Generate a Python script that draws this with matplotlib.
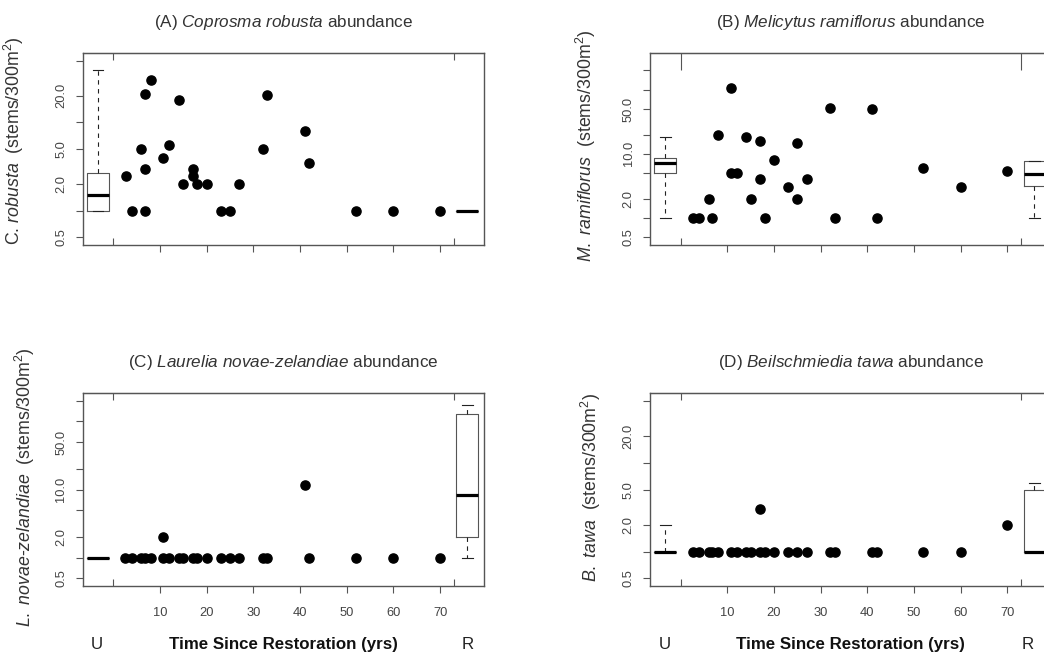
import matplotlib
matplotlib.use("Agg")
import matplotlib.pyplot as plt
from matplotlib.ticker import FixedLocator, FixedFormatter

plt.rcParams['font.family'] = ['Liberation Sans', 'DejaVu Sans']
plt.rcParams['mathtext.fontset'] = 'custom'
plt.rcParams['mathtext.rm'] = 'Liberation Sans'
plt.rcParams['mathtext.it'] = 'Liberation Sans:italic'
plt.rcParams['mathtext.bf'] = 'Liberation Sans:bold'

# restored sites: years since restoration and stem counts per 300 m2
yrs_a = [2.7, 4, 6, 6.8, 6.8, 6.8, 8, 10.7, 12, 14, 15, 17, 17, 18, 20,
         23, 25, 27, 32, 33, 41, 42, 52, 60, 70]
cop_rob = [2.5, 1, 5, 21, 3, 1, 30, 4, 5.5, 18, 2, 3, 2.5, 2, 2,
           1, 1, 2, 5, 20.5, 8, 3.5, 1, 1, 1]

yrs_b = [2.6, 4, 6, 6.8, 8, 10.7, 10.7, 12, 14, 15, 17, 17, 18, 20, 23,
         25, 25, 27, 32, 33, 41, 42, 52, 60, 70]
mel_ram = [1, 1, 2, 1, 20, 107, 5, 5, 18, 2, 16, 4, 1, 8, 3,
           15, 2, 4, 51, 1, 50, 1, 6, 3, 5.4]

yrs_c = [2.6, 4, 6, 6.8, 8, 10.7, 10.7, 12, 14, 15, 17, 18, 20, 23, 25,
         27, 32, 33, 41, 42, 52, 60, 70]
lau_nov = [1, 1, 1, 1, 1, 1, 2, 1, 1, 1, 1, 1, 1, 1, 1,
           1, 1, 1, 11.7, 1, 1, 1, 1]

yrs_d = [2.6, 4, 6, 6.8, 8, 10.7, 12, 14, 15, 17, 17, 18, 20, 23, 25,
         27, 32, 33, 41, 42, 52, 60, 70]
bei_taw = [1, 1, 1, 1, 1, 1, 1, 1, 1, 1, 3, 1, 1, 1, 1,
           1, 1, 1, 1, 1, 1, 1, 2]

# unrestored (U) and remnant (R) summaries: whislo, q1, med, q3, whishi
box_a = [[1, 1, 1.5, 2.65, 39], [1, 1, 1, 1, 1]]
box_b = [[1, 5.1, 7.1, 8.5, 18], [1, 3.1, 4.9, 7.6, 7.8]]
box_c = [[1, 1, 1, 1, 1], [1, 2, 8.3, 129, 176]]
box_d = [[1, 1, 1, 1, 2], [1, 1, 1, 5, 6]]

ticks_small = [0.5, 1, 2, 5, 10, 20, 50]
labels_small = ['0.5', '', '2.0', '5.0', '', '20.0', '']
ticks_big = [0.5, 1, 2, 5, 10, 20, 50, 100, 200]
labels_big = ['0.5', '', '2.0', '', '10.0', '', '50.0', '', '']

age_ticks = [10, 20, 30, 40, 50, 60, 70]
end_ticks = [0, 73]

GREY = '#555555'
TXT = '#333333'

W, H = 1044, 655
fig = plt.figure(figsize=(W / 100, H / 100), dpi=100)


def px_axes(left, top, right, bottom):
    return fig.add_axes([left / W, 1 - bottom / H, (right - left) / W,
                         (bottom - top) / H])


def panel(ax, x, y, boxes, ylim, yt, ytl, title, ylab, lab_x, lab_y,
          bottom_row, top_len=5):
    ax.set_xscale('linear')
    ax.set_yscale('log')
    stats = []
    for b in boxes:
        stats.append(dict(whislo=b[0], q1=b[1], med=b[2], q3=b[3],
                          whishi=b[4]))
    ax.bxp(stats, positions=[-3.3, 75.8], widths=4.6, showfliers=False,
           boxprops=dict(color=GREY, lw=0.8),
           medianprops=dict(color='black', lw=2.3, solid_capstyle='butt'),
           whiskerprops=dict(color='#222222', lw=0.8, ls=(0, (4, 4))),
           capprops=dict(color='#222222', lw=0.8), manage_ticks=False)
    ax.plot(x, y, 'o', color='black', ms=6.6, mec='black', clip_on=False)
    ax.set_xlim(-6.55, 79.4)
    ax.set_ylim(*ylim)

    ax.yaxis.set_major_locator(FixedLocator(yt))
    ax.yaxis.set_major_formatter(FixedFormatter(ytl))
    ax.yaxis.set_minor_locator(FixedLocator([]))
    ax.tick_params(axis='y', which='major', direction='out', length=5,
                   width=0.8, color=GREY, labelcolor='#444444',
                   labelsize=9.3, labelrotation=90, pad=6)
    for t in ax.get_yticklabels():
        t.set_va('center')

    ax.xaxis.set_major_locator(FixedLocator(age_ticks))
    ax.xaxis.set_minor_locator(FixedLocator(end_ticks))
    ax.tick_params(axis='x', which='major', direction='out', length=5,
                   width=0.8, color=GREY, labelcolor='#444444',
                   labelsize=9.3, pad=10, top=False,
                   labelbottom=bottom_row)
    ax.tick_params(axis='x', which='minor', direction='in', length=5,
                   width=0.8, color=GREY, top=False, bottom=True)
    sec = ax.secondary_xaxis('top')
    sec.set_xticks(end_ticks)
    sec.tick_params(axis='x', direction='in', length=top_len, width=0.8,
                    color=GREY, labeltop=False)
    sec.spines['top'].set_color(GREY)

    for s in ax.spines.values():
        s.set_color(GREY)
        s.set_linewidth(1.0)

    ax.text(0.5, 1.136, title, transform=ax.transAxes, ha='center',
            va='baseline', fontsize=12.3, color=TXT)
    ax.text(lab_x, lab_y, ylab, transform=ax.transAxes, rotation=90,
            rotation_mode='anchor', ha='center', va='baseline',
            fontsize=12.8, color=TXT)


ax_a = px_axes(82.7, 52.7, 484, 245)
ax_b = px_axes(650, 52.7, 1051.3, 245)
ax_c = px_axes(82.7, 393.3, 484, 585.7)
ax_d = px_axes(650, 393.3, 1051.3, 585.7)

panel(ax_a, yrs_a, cop_rob, box_a, (0.41, 61.6), ticks_small, labels_small,
      r'(A) $\it{Coprosma\ robusta}$ abundance',
      r'C. $\it{robusta}$  (stems/300m$^2$)', -0.156, 0.541, False)
panel(ax_b, yrs_b, mel_ram, box_b, (0.379, 378), ticks_big, labels_big,
      r'(B) $\it{Melicytus\ ramiflorus}$ abundance',
      r'$\it{M.\ ramiflorus}$  (stems/300m$^2$)', -0.145, 0.515, False,
      top_len=12.5)
panel(ax_c, yrs_c, lau_nov, box_c, (0.39, 259), ticks_big, labels_big,
      r'(C) $\it{Laurelia\ novae}$-$\it{zelandiae}$ abundance',
      r'$\it{L.\ novae}$-$\it{zelandiae}$  (stems/300m$^2$)',
      -0.13, 0.513, True)
panel(ax_d, yrs_d, bei_taw, box_d, (0.412, 61), ticks_small, labels_small,
      r'(D) $\it{Beilschmiedia\ tawa}$ abundance',
      r'$\it{B.\ tawa}$  (stems/300m$^2$)', -0.132, 0.508, True)

for ax, r_pos in ((ax_c, 0.960), (ax_d, 0.942)):
    ax.text(0.036, -0.331, 'U', transform=ax.transAxes, ha='center',
            va='baseline', fontsize=12.2, color='#222222')
    ax.text(0.5, -0.331, 'Time Since Restoration (yrs)',
            transform=ax.transAxes, ha='center', va='baseline',
            fontsize=12.2, fontweight='bold', color='#111111')
    ax.text(r_pos, -0.331, 'R', transform=ax.transAxes, ha='center',
            va='baseline', fontsize=12.2, color='#222222')

fig.savefig('out.png', dpi=100, facecolor='white')
